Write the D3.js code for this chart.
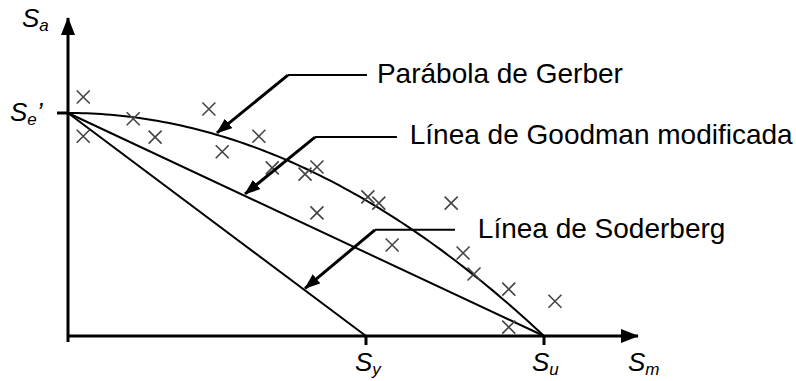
<!DOCTYPE html>
<html>
<head>
<meta charset="utf-8">
<script src="https://cdn.jsdelivr.net/npm/d3@7"></script>
<style>
  body { margin: 0; background: #fff; }
  text { font-family: "Liberation Sans", Arial, sans-serif; fill: #000; }
</style>
</head>
<body>
<div id="theGraph"></div>
<script>
const width = 796, height = 381;

// key strengths (Su = 100, Se' = 50 on arbitrary units)
const Se = 50, Sy = 62.6, Su = 100;
// test points (x marks)
const testSm = [3.2, 3.2, 13.7, 18.3, 29.6, 32.4, 40.1, 42.9, 49.8, 52.3, 52.3, 63.0, 65.3, 68.1, 80.5, 83.0, 85.3, 92.6, 102.3, 92.6];
const testSa = [53.6, 44.8, 48.7, 44.6, 50.9, 41.3, 44.8, 37.7, 36.3, 37.9, 27.6, 31.2, 29.8, 20.4, 29.8, 18.6, 13.9, 10.5, 7.8, 2.0];
// labels on the curves
const labels = ["Parábola de Gerber", "Línea de Goodman modificada", "Línea de Soderberg"];
const tipSm = [31.3, 37.2, 49.8];
const elbowSm = [46.2, 51.9, 64.5];
const elbowSa = [58.5, 44.6, 23.8];
const leaderEndSm = [62.8, 69.1, 81.3];
const textSm = [64.9, 71.8, 86.1];
const textSa = [56.7, 43.0, 22.0];

const xScale = d3.scaleLinear().domain([0, 100]).range([68, 544]);
const yScale = d3.scaleLinear().domain([0, 50]).range([336, 113]);

const svg = d3.select("#theGraph").append("svg").attr("width", width).attr("height", height);
const defs = svg.append("defs");
defs.append("marker").attr("id", "arr").attr("markerUnits", "userSpaceOnUse")
    .attr("viewBox", "0 0 16 12").attr("markerWidth", 16).attr("markerHeight", 12)
    .attr("refX", 15).attr("refY", 6).attr("orient", "auto")
    .append("path").attr("d", "M0,0 L16,6 L0,12 z").attr("fill", "#000");
defs.append("marker").attr("id", "axarr").attr("markerUnits", "userSpaceOnUse")
    .attr("viewBox", "0 0 18 14").attr("markerWidth", 18).attr("markerHeight", 14)
    .attr("refX", 17).attr("refY", 7).attr("orient", "auto")
    .append("path").attr("d", "M0,0 L18,7 L0,14 z").attr("fill", "#000");

// curves
const gerber = d3.range(0, 100.01, 1).map(m => [m, Se * (1 - Math.pow(m / Su, 2))]);
const line = d3.line().x(d => xScale(d[0])).y(d => yScale(d[1]));
svg.append("path").attr("d", line(gerber)).attr("fill", "none").attr("stroke", "#000").attr("stroke-width", 2);
svg.append("path").attr("d", line([[0, Se], [Su, 0]])).attr("fill", "none").attr("stroke", "#000").attr("stroke-width", 2);
svg.append("path").attr("d", line([[0, Se], [Sy, 0]])).attr("fill", "none").attr("stroke", "#000").attr("stroke-width", 2);

// axes
svg.append("line").attr("x1", xScale(0)).attr("y1", yScale(0) + 6).attr("x2", xScale(0)).attr("y2", 18)
    .attr("stroke", "#000").attr("stroke-width", 3).attr("marker-end", "url(#axarr)");
svg.append("line").attr("x1", xScale(0) - 1).attr("y1", yScale(0)).attr("x2", 638).attr("y2", yScale(0))
    .attr("stroke", "#000").attr("stroke-width", 3).attr("marker-end", "url(#axarr)");
svg.append("line").attr("x1", xScale(0) - 11).attr("x2", xScale(0)).attr("y1", yScale(Se)).attr("y2", yScale(Se))
    .attr("stroke", "#000").attr("stroke-width", 3);
[Sy, Su].forEach(v => {
  svg.append("line").attr("x1", xScale(v)).attr("x2", xScale(v)).attr("y1", yScale(0)).attr("y2", yScale(0) + 9)
      .attr("stroke", "#000").attr("stroke-width", 3);
});

// test points
svg.selectAll(".pt").data(testSm.map((m, i) => [m, testSa[i]])).enter()
    .append("path").attr("class", "pt")
    .attr("d", d => { const x = xScale(d[0]), y = yScale(d[1]), r = 6.5;
      return `M${x - r},${y - r}L${x + r},${y + r}M${x - r},${y + r}L${x + r},${y - r}`; })
    .attr("stroke", "#444").attr("stroke-width", 1.6).attr("fill", "none");

// leaders + labels
const onCurve = [m => Se * (1 - Math.pow(m / Su, 2)), m => Se * (1 - m / Su), m => Se * (1 - m / Sy)];
labels.forEach((t, i) => {
  svg.append("line").attr("x1", xScale(elbowSm[i])).attr("y1", yScale(elbowSa[i]))
      .attr("x2", xScale(leaderEndSm[i])).attr("y2", yScale(elbowSa[i]))
      .attr("stroke", "#000").attr("stroke-width", 2);
  svg.append("line").attr("x1", xScale(elbowSm[i])).attr("y1", yScale(elbowSa[i]))
      .attr("x2", xScale(tipSm[i])).attr("y2", yScale(onCurve[i](tipSm[i])) - 2)
      .attr("stroke", "#000").attr("stroke-width", 3).attr("marker-end", "url(#arr)");
  svg.append("text").attr("x", xScale(textSm[i])).attr("y", yScale(textSa[i]))
      .attr("font-size", 28).text(t);
});

// axis symbols
function sym(x, y, sub, extra) {
  const t = svg.append("text").attr("x", x).attr("y", y).attr("font-size", 26).attr("font-style", "italic");
  t.append("tspan").text("S");
  t.append("tspan").attr("font-size", 17).attr("dy", 4).text(sub);
  if (extra) t.append("tspan").attr("dy", -4).attr("font-size", 26).text(extra);
}
sym(22, 27, "a");
sym(10, 121, "e", "\u2019");
sym(355, 371, "y");
sym(532, 371, "u");
sym(628, 371, "m");
</script>
</body>
</html>
